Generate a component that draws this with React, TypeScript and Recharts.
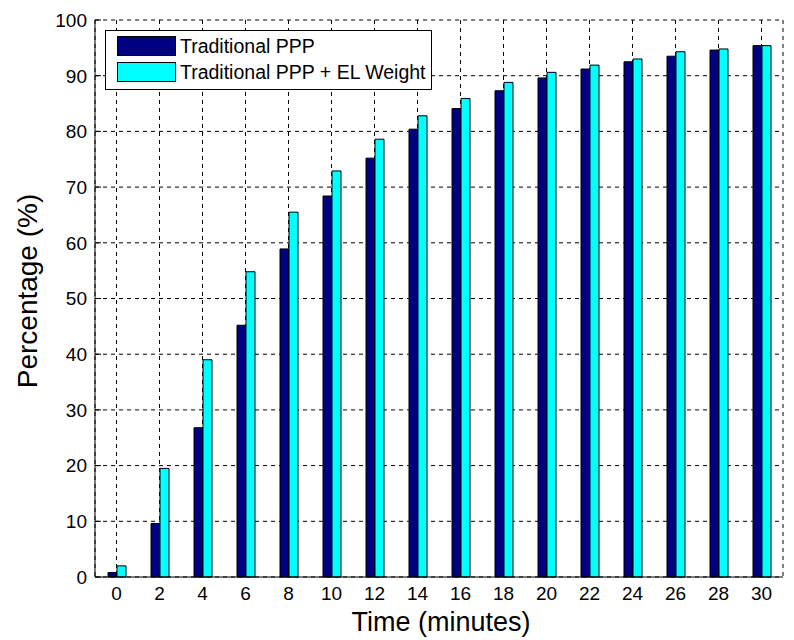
import {
  BarChart,
  Bar,
  XAxis,
  YAxis,
  CartesianGrid,
  Legend,
} from "recharts";

const times = ["0", "2", "4", "6", "8", "10", "12", "14", "16", "18", "20", "22", "24", "26", "28", "30"];
const traditional = [0.8, 9.6, 26.8, 45.2, 58.9, 68.4, 75.2, 80.4, 84.1, 87.3, 89.6, 91.2, 92.5, 93.5, 94.6, 95.4];
const elWeight = [2.0, 19.5, 39.0, 54.8, 65.5, 72.9, 78.6, 82.8, 85.9, 88.8, 90.6, 91.9, 93.0, 94.3, 94.8, 95.4];
const yTicks = [0, 10, 20, 30, 40, 50, 60, 70, 80, 90, 100];

const seriesNames = ["Traditional PPP", "Traditional PPP + EL Weight"];
const seriesColors = ["#000080", "#00ffff"];

const data = times.map((t, i) => ({
  t,
  trad: traditional[i],
  el: elWeight[i],
}));

const FONT = "'Liberation Sans', Arial, Helvetica, sans-serif";

function BottomTick({ x, y, payload }: any) {
  return (
    <g>
      <line x1={x} x2={x} y1={y} y2={y - 6} stroke="#000" />
      <text x={x} y={y + 23} textAnchor="middle" fontSize={19} fontFamily={FONT} fill="#000">
        {payload.value}
      </text>
    </g>
  );
}

function TopTick({ x, y }: any) {
  return <line x1={x} x2={x} y1={y} y2={y + 6} stroke="#000" />;
}

function LeftTick({ x, y, payload }: any) {
  return (
    <g>
      <line x1={x} x2={x + 6} y1={y} y2={y} stroke="#000" />
      <text x={x - 8} y={y} dy="0.36em" textAnchor="end" fontSize={19} fontFamily={FONT} fill="#000">
        {payload.value}
      </text>
    </g>
  );
}

function RightTick({ x, y }: any) {
  return <line x1={x} x2={x - 6} y1={y} y2={y} stroke="#000" />;
}

function LegendBox() {
  return (
    <div
      style={{
        width: 325,
        height: 58,
        border: "1px solid #000",
        background: "#fff",
        fontFamily: FONT,
        fontSize: 19.5,
        color: "#000",
        position: "relative",
      }}
    >
      {seriesNames.map((name, i) => (
        <div
          key={name}
          style={{
            position: "absolute",
            left: 11,
            top: 5 + i * 26,
            height: 20,
            display: "flex",
            alignItems: "center",
          }}
        >
          <div
            style={{
              width: 57,
              height: 18,
              background: seriesColors[i],
              border: "1px solid #000",
            }}
          />
          <span style={{ marginLeft: 4, whiteSpace: "nowrap" }}>{name}</span>
        </div>
      ))}
    </div>
  );
}

export default function App() {
  return (
    <div style={{ position: "absolute", left: 0, top: 0, background: "#fff" }}>
      <BarChart
        width={794}
        height={640}
        data={data}
        margin={{ top: 20, right: 11, bottom: 0, left: 0 }}
        barGap={0}
        barSize={9}
      >
        <CartesianGrid stroke="#000" strokeDasharray="4 4" strokeWidth={1} />
        <XAxis
          dataKey="t"
          height={63}
          interval={0}
          tickSize={0}
          tickMargin={0}
          tickLine={false}
          axisLine={{ stroke: "#000" }}
          tick={<BottomTick />}
          label={{
            content: ({ viewBox }: any) => (
              <text
                x={viewBox.x + viewBox.width / 2 + 2}
                y={631}
                textAnchor="middle"
                fontSize={27}
                fontFamily={FONT}
                fill="#000"
              >
                Time (minutes)
              </text>
            ),
          }}
        />
        <XAxis
          xAxisId="top"
          dataKey="t"
          orientation="top"
          height={0}
          interval={0}
          tickSize={0}
          tickMargin={0}
          tickLine={false}
          axisLine={{ stroke: "#000" }}
          tick={<TopTick />}
        />
        <YAxis
          width={95}
          domain={[0, 100]}
          ticks={yTicks}
          interval={0}
          tickSize={0}
          tickMargin={0}
          tickLine={false}
          axisLine={{ stroke: "#000" }}
          tick={<LeftTick />}
          label={{
            content: () => (
              <text
                x={27}
                y={291}
                transform="rotate(-90 27 291)"
                textAnchor="middle"
                dominantBaseline="central"
                fontSize={28}
                fontFamily={FONT}
                fill="#000"
              >
                Percentage (%)
              </text>
            ),
          }}
        />
        <YAxis
          yAxisId="r"
          orientation="right"
          width={0}
          domain={[0, 100]}
          ticks={yTicks}
          interval={0}
          tickSize={0}
          tickMargin={0}
          tickLine={false}
          axisLine={{ stroke: "#000" }}
          tick={<RightTick />}
        />
        <Legend
          layout="vertical"
          align="center"
          verticalAlign="middle"
          wrapperStyle={{ left: 105, top: 30, width: 327, height: 60 }}
          content={() => <LegendBox />}
        />
        <Bar
          dataKey="trad"
          name={seriesNames[0]}
          fill={seriesColors[0]}
          stroke="#000"
          strokeWidth={1}
          isAnimationActive={false}
        />
        <Bar
          dataKey="el"
          name={seriesNames[1]}
          fill={seriesColors[1]}
          stroke="#000"
          strokeWidth={1}
          isAnimationActive={false}
        />
      </BarChart>
    </div>
  );
}
